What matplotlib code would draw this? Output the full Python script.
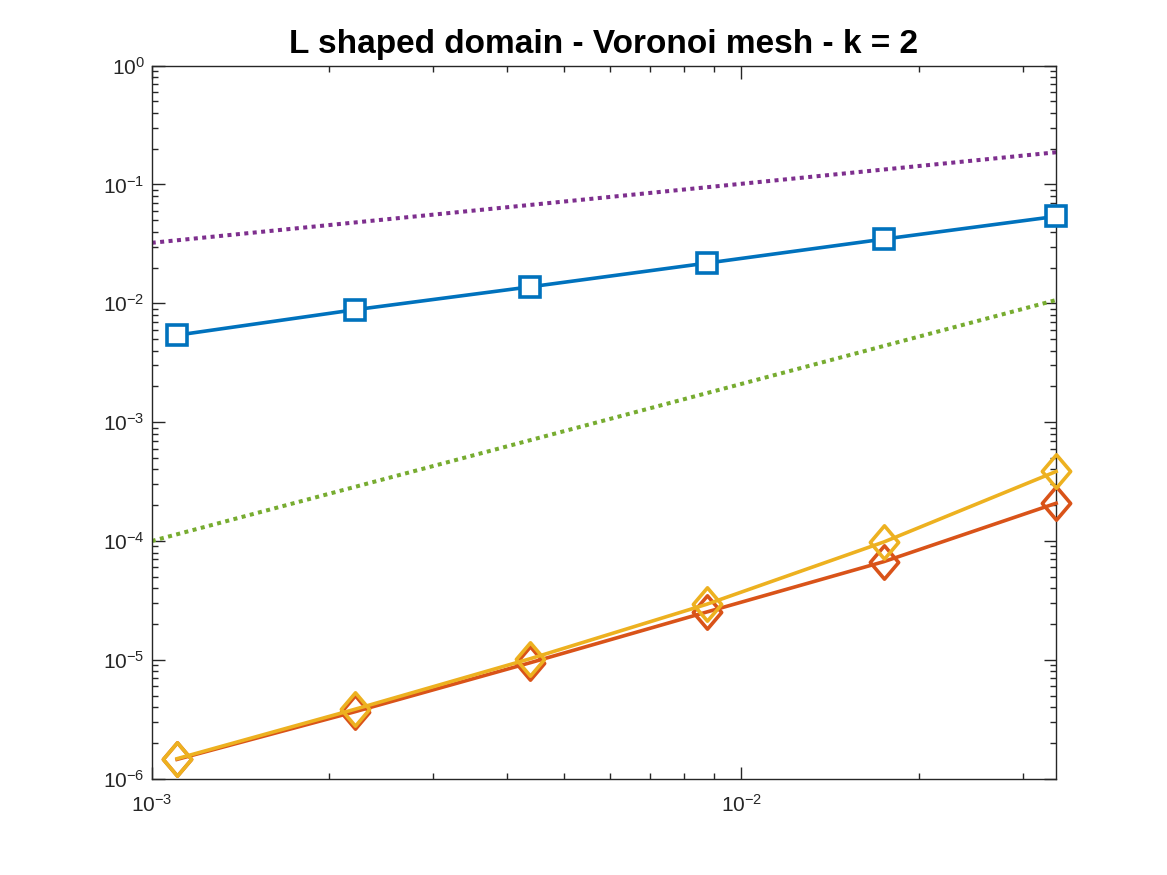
import numpy as np
import matplotlib
matplotlib.use('Agg')
import matplotlib.pyplot as plt
from matplotlib.path import Path
from matplotlib.ticker import FixedLocator, FuncFormatter, NullFormatter

plt.rcParams['font.family'] = ['Liberation Sans', 'DejaVu Sans']
plt.rcParams['mathtext.fontset'] = 'custom'
plt.rcParams['mathtext.rm'] = 'Liberation Sans'

# mesh size and errors
h = [1.104e-3, 2.21e-3, 4.39e-3, 8.74e-3, 1.745e-2, 3.42e-2]
err_blue = [5.4e-3, 8.83e-3, 1.378e-2, 2.18e-2, 3.47e-2, 5.39e-2]
err_orange = [1.455e-6, 3.66e-6, 9.48e-6, 2.53e-5, 6.71e-5, 2.08e-4]
err_yellow = [1.475e-6, 3.84e-6, 1.025e-5, 2.94e-5, 9.82e-5, 3.85e-4]

# reference slopes
h_ref = [1e-3, 3.42e-2]
ref_purple = [0.0323, 0.1866]
ref_green = [1.0e-4, 1.066e-2]

xdecades = [-3, -2]
ydecades = [-6, -5, -4, -3, -2, -1, 0]

title = 'L shaped domain - Voronoi mesh - k = 2'

c_blue = '#0072BD'
c_orange = '#D95319'
c_yellow = '#EDB120'
c_purple = '#7E2F8E'
c_green = '#77AC30'
axcol = '#262626'

# matlab-ish diamond (a bit narrower than tall)
diamond = Path([(0, 1), (0.85, 0), (0, -1), (-0.85, 0), (0, 1)],
               [Path.MOVETO, Path.LINETO, Path.LINETO, Path.LINETO, Path.CLOSEPOLY])

fig = plt.figure(figsize=(11.67, 8.75), dpi=100)
ax = fig.add_axes([0.13, 0.11, 0.775, 0.815])

lw = 2.6
ax.loglog(h, err_blue, '-', color=c_blue, lw=lw, marker='s', ms=14,
          mfc='white', mec=c_blue, mew=2.6, clip_on=False, zorder=3)
ax.loglog(h, err_orange, '-', color=c_orange, lw=lw, marker=diamond, ms=24,
          mfc='none', mec=c_orange, mew=2.6, clip_on=False, zorder=3)
ax.loglog(h, err_yellow, '-', color=c_yellow, lw=lw, marker=diamond, ms=24,
          mfc='none', mec=c_yellow, mew=2.6, clip_on=False, zorder=4)
ax.loglog(h_ref, ref_purple, color=c_purple, lw=2.9, ls=(0, (1.0, 1.1)), zorder=2)
ax.loglog(h_ref, ref_green, color=c_green, lw=2.9, ls=(0, (1.0, 1.1)), zorder=2)

ax.set_xlim(1e-3, h[-1])
ax.set_ylim(1e-6, 1)

def sci(v, pos):
    e = int(round(np.log10(v)))
    return r'$\mathregular{10^{%d}}$' % e

def minors(decs, lo, hi):
    out = []
    for d in decs:
        for m in range(2, 10):
            v = m * 10.0 ** d
            if lo <= v <= hi:
                out.append(v)
    return out

ax.xaxis.set_major_locator(FixedLocator([10.0 ** d for d in xdecades]))
ax.xaxis.set_minor_locator(FixedLocator(minors(xdecades, 1e-3, h[-1])))
ax.yaxis.set_major_locator(FixedLocator([10.0 ** d for d in ydecades]))
ax.yaxis.set_minor_locator(FixedLocator(minors(ydecades[:-1], 1e-6, 1)))
for axis in (ax.xaxis, ax.yaxis):
    axis.set_major_formatter(FuncFormatter(sci))
    axis.set_minor_formatter(NullFormatter())

ax.tick_params(which='both', direction='in', top=True, right=True,
               color=axcol, labelcolor=axcol, width=1.0)
ax.tick_params(which='major', length=9, labelsize=15)
ax.tick_params(which='minor', length=4.5)
ax.tick_params(axis='x', which='major', pad=11)
ax.tick_params(axis='y', which='major', pad=5)
for s in ax.spines.values():
    s.set_color(axcol)
    s.set_linewidth(1.0)

ax.set_title(title, fontsize=24, fontweight='bold', pad=9)

fig.savefig('out.png', dpi=100)
